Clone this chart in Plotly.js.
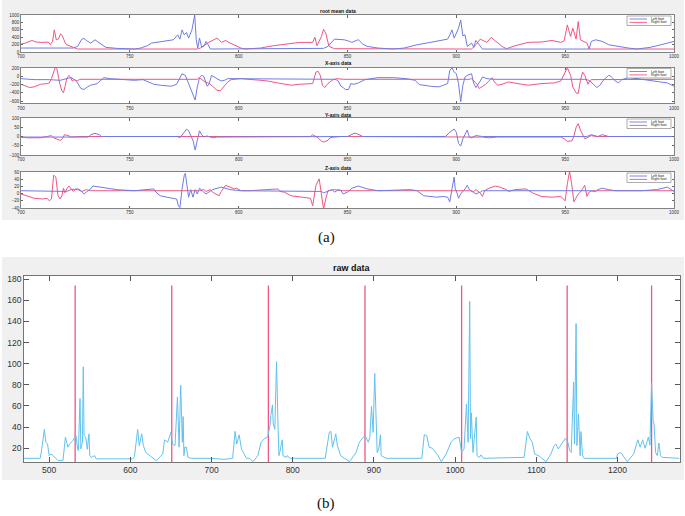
<!DOCTYPE html>
<html><head><meta charset="utf-8">
<script src="https://cdn.plot.ly/plotly-3.0.1.min.js"></script>
<style>html,body{margin:0;padding:0;background:#fff}#chart{width:685px;height:516px}</style>
</head><body><div id="chart"></div>
<script>
// ---------- DATA (x, value pairs) ----------
const rmsLeft = [[700,107],[724,107],[726,152],[728,348],[729,366],[730,312],[732,241],[734,330],[735,286],[737,214],[739,125],[744,98],[752,80],[755,107],[758,170],[760,241],[762,259],[767,286],[770,330],[772,464],[773,348],[774,598],[775,464],[776,527],[777,375],[778.5,590],[779.8,1000],[780.5,330],[781.2,107],[782,375],[783,134],[784,152],[785,286],[786,196],[787,80],[839,98],[841,152],[844,348],[848.5,330],[851,286],[852,259],[854,312],[855,330],[857,214],[859,152],[864,107],[871,80],[876,107],[882,196],[888,259],[894,312],[896,348],[897,464],[898,598],[899,375],[901,643],[902,866],[903,437],[904,464],[905,152],[907,241],[908,125],[909,312],[911,152],[912,80],[961,80],[962,286],[964,330],[967,286],[970,196],[974,152],[979,107],[983,80],[989,125],[994,196],[998,259],[1000,286]];
const rmsRight = [[700,214],[702,241],[705,312],[707,268],[710,259],[712.5,268],[713.5,200],[714.5,290],[715.3,598],[716.2,330],[717.2,350],[718.2,491],[719,437],[720.2,259],[721,196],[722.5,152],[724,125],[726,80],[781,80],[782.5,110],[786,250],[790,375],[791,330],[792,259],[794,312],[795.5,259],[797.5,196],[799,170],[801,107],[803,80],[810,107],[816,170],[824,241],[828,259],[834,259],[835,402],[836,170],[838,420],[839,616],[840,509],[841.5,152],[844,89],[907,80],[909,196],[911,348],[914,259],[916,393],[918,286],[921,152],[923,89],[927,170],[933,259],[939,270],[944,312],[948,259],[949.5,300],[951,732],[952.5,420],[953.5,643],[955,348],[956,821],[957,330],[959,259],[960,241],[961,80],[1000,80]];
const axXLeft = [[700,-56],[706,-80],[713,-80],[718,-96],[721,-56],[723,-32],[724.5,-80],[726,-160],[727.5,-296],[729,-320],[730.5,-256],[732,-216],[735,-176],[736.5,-112],[738,-32],[741,-56],[746,-80],[752,-96],[756,-80],[759,-136],[761,-192],[764,-216],[769,-240],[771.5,-192],[772.5,-96],[774,64],[775.5,24],[777,-176],[779,-416],[780,-576],[781,-256],[782,-32],[783,24],[784,0],[785.5,-240],[786.5,-176],[787.5,24],[788.5,0],[790,-56],[792,-112],[793.5,-96],[795,-56],[798,-56],[801,-72],[844,-72],[845.5,-96],[847,-240],[848,-272],[849,-320],[850.5,-320],[851.5,-176],[853,-192],[855,-160],[858,-80],[864,-32],[871,-32],[877,-56],[881,-96],[883,-200],[888,-240],[892,-256],[894,-216],[896,-176],[897,144],[898,208],[899,104],[900,64],[901,-176],[902,-616],[903,-216],[904,-16],[905,24],[907,64],[908,-176],[909,-272],[911,-112],[912,-16],[914,-56],[917,-72],[959,-72],[961,-96],[963,-192],[964.5,-272],[966,-216],[967.5,-96],[970,24],[971,0],[973,-112],[974.5,-160],[976,-80],[979,-32],[983,-56],[988,-96],[994,-136],[997,-160],[1000,-240]];
const axXRight = [[700,-192],[702,-240],[704,-272],[706,-256],[709,-192],[712,-176],[713,-160],[714,-56],[715,104],[715.8,224],[716.5,184],[717.8,-176],[718.8,-352],[719.5,-400],[720.2,-256],[721,-56],[722,24],[722.8,-16],[723.5,-112],[724.5,-80],[725.8,-112],[727,-72],[781,-72],[782,-32],[784.5,-136],[786,-160],[788,-240],[790,-336],[791.5,-352],[793,-256],[795,-136],[796.5,-80],[801,-56],[810,-96],[813,-112],[818,-160],[824,-216],[828,-192],[834,-176],[835.5,104],[836.5,120],[837.5,24],[838.5,-216],[839.5,-272],[841,-176],[842.5,-112],[843.5,-80],[845,-56],[848,-72],[906,-72],[907,-56],[908,-112],[909.5,-192],[910.5,-296],[912,-240],[913.5,-192],[915,-112],[916.5,-32],[917.5,-136],[919,-216],[921,-192],[924,-136],[930,-192],[933,-216],[939,-176],[945,-160],[948,-112],[949.5,64],[951,208],[952.5,24],[953.5,-256],[955,-400],[956,-416],[957,-96],[958,104],[959,24],[960.5,-192],[961.2,-112],[962,-80],[1000,-72]];
const axYLeft = [[700,-3],[731,-3],[732,10],[734,17],[736,10],[737,0],[772,0],[773,-7],[775,23],[776,40],[777,31],[779,-21],[780,-73],[781,-21],[782,31],[783,10],[784,-3],[785.5,3],[788,-7],[790,-3],[850,0],[853,17],[854,17],[857,0],[895,0],[897,23],[899,40],[900,23],[901,-38],[902,-52],[903,-12],[905,35],[906,-3],[907,-7],[909,5],[912,0],[960,0],[962,10],[965,0],[967,10],[970,0],[1000,0]];
const axYRight = [[700,-3],[703,-7],[709,-7],[713,0],[714,5],[715,-7],[717,-14],[718,-21],[719,-12],[720,10],[722,3],[723,-3],[726,0],[833,0],[834,9],[836,-3],[838,-24],[839,-30],[841,-21],[842,-7],[844,-3],[847,0],[912,-3],[915,-7],[919,-3],[948,-3],[949.5,-12],[951,-26],[953,-24],[954,0],[955,49],[956,70],[957,35],[959,-12],[960,-7],[962,5],[964,0],[1000,0]];
const axZLeft = [[700,8],[716,8],[718,8],[721,6],[723,11],[726,13],[727,11],[729,-1],[730,4],[732,13],[733,21],[736,18],[741,13],[744,11],[752,8],[759,11],[761,13],[762,4],[764,-6],[767,-10],[770,-13],[771.5,-15],[772.3,-34],[773,-39],[774,13],[775,51],[775.5,56],[776,37],[777,-10],[778,11],[779,-10],[780,11],[781,-1],[782,15],[783,8],[784,4],[785,-1],[787,6],[788,11],[792,18],[796,11],[801,8],[836,8],[838,6],[839,2],[841,6],[843,11],[844,4],[846,11],[847,8],[848,-1],[850,4],[852,15],[855,21],[857,18],[859,13],[864,8],[879,11],[882,8],[885,-6],[891,-10],[894,-8],[896,-10],[897,-23],[898,13],[899,46],[899.5,13],[900,8],[901,-13],[902,-1],[904,13],[905,23],[906,11],[908,4],[909,-1],[911,4],[912,8],[961,8],[964,6],[965,11],[967,15],[970,11],[973,8],[985,8],[992,11],[997,18],[1000,6]];
const axZRight = [[700,-1],[703,-6],[706,-13],[710,-15],[712,-13],[713,-20],[714,-15],[715,51],[716,46],[717,-6],[718,-15],[718.8,-6],[719.5,15],[720.2,2],[721,13],[722,21],[723,13],[724,6],[725,11],[726,11],[728,6],[730,11],[732,8],[782,8],[784,11],[785,6],[787,11],[788,4],[791,-6],[792,6],[794,23],[796,18],[798,13],[799,15],[801,8],[805,8],[813,11],[818,13],[819,6],[821,4],[824,-6],[828,-10],[833,-13],[834,-34],[835.5,23],[837,41],[838,4],[839,-43],[840,-15],[841,8],[844,11],[848,8],[906,8],[908,6],[909,11],[911,2],[912,-8],[913,8],[915,15],[918,21],[920,18],[923,11],[924,6],[927,11],[932,13],[935,2],[939,-8],[944,-10],[948,-8],[950,-20],[951,27],[952,62],[953,27],[954,-23],[956,-1],[957,4],[959,23],[960,-8],[961,4],[962,8],[1000,8]];
const rawData = [[469,10.5],[489,10.5],[491,20],[494,37.7],[496,25.7],[498,24],[500,13],[502,14.6],[505,13],[511,8.3],[517,8.3],[520,30.5],[523,21],[525,24],[529,27],[532,30.5],[533,32],[535,19.4],[536,17.8],[538,67],[539,19.4],[541,25.7],[542,97],[543,32],[545,30.5],[547,19],[549,33.6],[550,13],[552,11.4],[556,13],[558,10],[603,10],[605,12],[609,37.7],[611,22.5],[614,33.6],[616,22.5],[619,16],[632,8.3],[640,14.6],[642,28],[646,25.7],[650,35],[652,24],[655,22.5],[658,68.5],[660,21],[662,79.6],[664,25.7],[665,50],[666,13],[667,21],[669,21],[671,11.4],[674,10.5],[700,10.5],[715,9.5],[726,10.5],[729,36],[731,24],[734,32.7],[737,19],[743,10.5],[747,10.5],[751,7.3],[757,13],[761,25.7],[765,29],[769,30.5],[772,41.5],[773,51],[775,61],[776,43],[778,38],[780,102],[782,38],[783,13],[784,16],[787,28],[788,13],[792,11.4],[793,13],[797,10.5],[840,10.5],[845,35],[847,36],[849,21],[853,33.6],[855,22.5],[859,13],[862,11.4],[870,7.3],[878,16],[882,25.7],[886,29.5],[889,32],[893,25.7],[895,30.5],[897,59.6],[899,35],[901,90.7],[903,48],[904,16],[906,19.4],[908,32.7],[909,13],[912,11.4],[915,10.5],[959,10.5],[962,32.7],[965,32],[968,21],[972,20],[975,16.8],[979,13],[983,7.3],[989,14.6],[995,25.7],[999,29],[1005,30.5],[1008,16],[1011,19.4],[1014,62],[1016,25.7],[1018,159],[1019,29],[1020,53.6],[1022,16],[1024,30.5],[1026,49.5],[1027,13],[1030,11.4],[1032,13.7],[1035,10.5],[1085,11.4],[1089,35.8],[1092,29.5],[1095,25.7],[1098,14.6],[1104,12.4],[1112,7.3],[1118,14.6],[1122,22.5],[1124,24],[1127,19.4],[1132,25.7],[1136,29.5],[1139,25.7],[1141,17.8],[1143,16],[1146,82.7],[1147,24],[1149,138],[1150,22.5],[1152,52.6],[1154,13],[1155,35.8],[1157,13],[1159,10.5],[1199,10.5],[1200,14.6],[1204,16],[1208,11.4],[1212,7.3],[1220,14.6],[1225,28],[1228,21],[1231,28],[1234,20],[1238,30.5],[1240,23],[1242,81.8],[1244,44.7],[1245,43],[1247,16],[1249,13],[1251,25],[1253,13],[1255,11.4],[1276,10.5]];
const stepMarkers = [532, 651, 770, 889, 1008, 1138, 1242];
const stepMarkerTop = 174;
const panelTitles = ['root mean data', 'X-axis data', 'Y-axis data', 'Z-axis data'];
const legendNames = ['Left foot', 'Right foot'];
const panelSeries = [[rmsLeft, rmsRight], [axXLeft, axXRight], [axYLeft, axYRight], [axZLeft, axZRight]];

// ---------- LAYOUT ----------
const W = 685, H = 516;
const px = v => v / W, py = v => 1 - v / H;
const BLUE = '#6f7be6', RED = '#f0567f', RAWBLUE = '#62c2ee', MARK = '#f2557f';
const panelTop = [15, 67.5, 118, 172], panelBot = [52, 103.5, 155, 208];
const titleY = [10.5, 63, 115, 167.5];
const yRanges = [[0, 1000], [-660, 215], [-100, 100], [-40, 60]];
const yDtick = [200, 200, 50, 20];
const PL = 21, PR = 674;
const RAW = {l: 24, r: 680, t: 276, b: 462};

const traces = [];
const layout = {
  width: W, height: H, margin: {l: 0, r: 0, t: 0, b: 0},
  paper_bgcolor: '#ffffff', plot_bgcolor: '#ffffff', showlegend: false,
  font: {family: 'Liberation Sans, Arial, sans-serif', color: '#333'},
  shapes: [], annotations: []
};
const bg = '#f0f0f0';
const rect = (x0, x1, y0, y1, fill) => ({type: 'rect', xref: 'paper', yref: 'paper', x0: px(x0), x1: px(x1), y0: py(y1), y1: py(y0), fillcolor: fill, line: {width: 0}, layer: 'below'});
layout.shapes.push(rect(2, 684, 0, 220, bg));
layout.shapes.push(rect(2, 684, 257, 480, bg));
panelTop.forEach((t, i) => layout.shapes.push(rect(PL, PR, t, panelBot[i], '#ffffff')));
layout.shapes.push(rect(RAW.l, RAW.r, RAW.t, RAW.b, '#ffffff'));

const axBase = {showline: true, linecolor: '#666', linewidth: 0.8, mirror: 'ticks', ticks: 'inside',
  tickcolor: '#666', showgrid: false, zeroline: false, fixedrange: true};

panelSeries.forEach((pair, i) => {
  const n = i + 1, xa = 'xaxis' + (n === 1 ? '' : n), ya = 'yaxis' + (n === 1 ? '' : n);
  const xr = 'x' + (n === 1 ? '' : n), yr = 'y' + (n === 1 ? '' : n);
  layout[xa] = Object.assign({}, axBase, {domain: [px(PL), px(PR)], range: [700, 1000], tick0: 700, dtick: 50,
    ticklen: 2.5, tickfont: {size: 4.5, color: '#333'}, anchor: yr});
  layout[ya] = Object.assign({}, axBase, {domain: [py(panelBot[i]), py(panelTop[i])], range: yRanges[i], tick0: 0,
    dtick: yDtick[i], ticklen: 2, tickfont: {size: 4.5, color: '#333'}, anchor: xr});
  [[pair[1], RED], [pair[0], BLUE]].forEach(([s, c]) => {
    traces.push({type: 'scatter', mode: 'lines', x: s.map(p => p[0]), y: s.map(p => p[1]), xaxis: xr, yaxis: yr,
      line: {color: c, width: 1}, hoverinfo: 'skip'});
  });
  layout.annotations.push({xref: 'paper', yref: 'paper', x: px(338), y: py(titleY[i]), text: '<b>' + panelTitles[i] + '</b>',
    showarrow: false, font: {size: 5, color: '#111'}, xanchor: 'center', yanchor: 'middle'});
  const t = panelTop[i] + 1;
  layout.shapes.push({type: 'rect', xref: 'paper', yref: 'paper', x0: px(627), x1: px(671), y0: py(t + 9.5), y1: py(t), fillcolor: '#fff', line: {color: '#777', width: 0.6}});
  [BLUE, RED].forEach((c, k) => {
    const yy = t + 3 + k * 3.4;
    layout.shapes.push({type: 'line', xref: 'paper', yref: 'paper', x0: px(629.5), x1: px(647), y0: py(yy), y1: py(yy), line: {color: c, width: 0.9}});
    layout.annotations.push({xref: 'paper', yref: 'paper', x: px(648.5), y: py(yy), text: legendNames[k], showarrow: false,
      font: {size: 3.6, color: '#222'}, xanchor: 'left', yanchor: 'middle'});
  });
});

layout.xaxis5 = Object.assign({}, axBase, {domain: [px(RAW.l), px(RAW.r)], range: [469, 1277], tick0: 500, dtick: 100,
  ticklen: 5, tickfont: {size: 8.5, color: '#333'}, anchor: 'y5', linecolor: '#555', tickcolor: '#555'});
layout.yaxis5 = Object.assign({}, axBase, {domain: [py(RAW.b), py(RAW.t)], range: [7, 183], tick0: 0, dtick: 20,
  ticklen: 5, tickfont: {size: 8.5, color: '#333'}, anchor: 'x5', linecolor: '#555', tickcolor: '#555'});
const mx = [], my = [];
stepMarkers.forEach(v => { mx.push(v, v, null); my.push(0, stepMarkerTop, null); });
traces.push({type: 'scatter', mode: 'lines', x: mx, y: my, xaxis: 'x5', yaxis: 'y5', line: {color: MARK, width: 1.3}, hoverinfo: 'skip', connectgaps: false});
traces.push({type: 'scatter', mode: 'lines', x: rawData.map(p => p[0]), y: rawData.map(p => p[1]), xaxis: 'x5', yaxis: 'y5',
  line: {color: RAWBLUE, width: 1}, hoverinfo: 'skip'});
layout.annotations.push({xref: 'paper', yref: 'paper', x: px(352), y: py(268), text: '<b>raw data</b>', showarrow: false,
  font: {size: 9, color: '#111'}, xanchor: 'center', yanchor: 'middle'});

layout.annotations.push({xref: 'paper', yref: 'paper', x: px(326), y: py(238), text: '(a)', showarrow: false,
  font: {family: 'Liberation Serif, Times New Roman, serif', size: 15, color: '#111'}, xanchor: 'center', yanchor: 'middle'});
layout.annotations.push({xref: 'paper', yref: 'paper', x: px(326), y: py(503), text: '(b)', showarrow: false,
  font: {family: 'Liberation Serif, Times New Roman, serif', size: 15, color: '#111'}, xanchor: 'center', yanchor: 'middle'});

Plotly.newPlot('chart', traces, layout, {staticPlot: true, displayModeBar: false});
</script></body></html>
